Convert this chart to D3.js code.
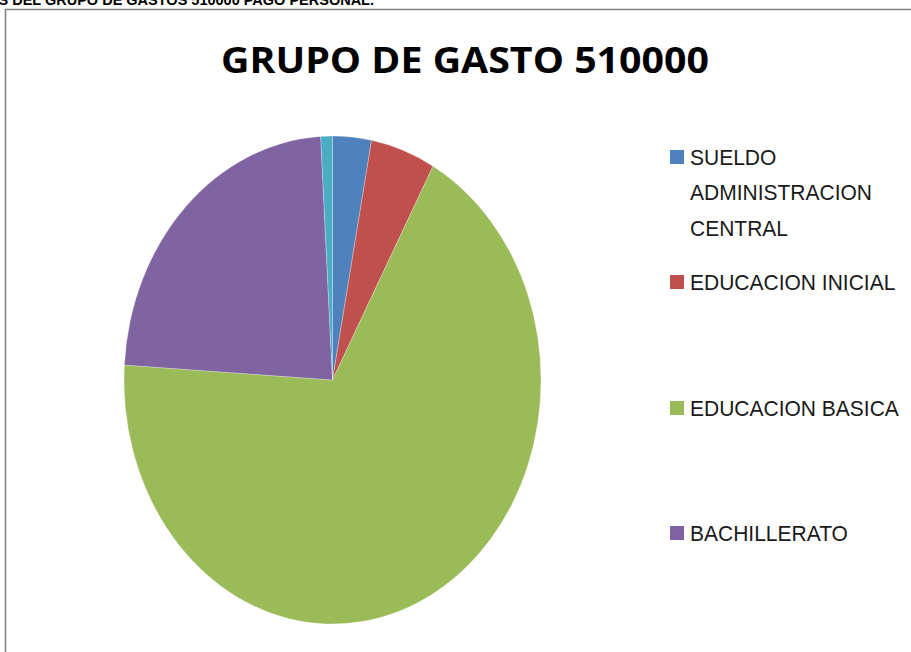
<!DOCTYPE html>
<html>
<head>
<meta charset="utf-8">
<script src="https://cdn.jsdelivr.net/npm/d3@7.9.0/dist/d3.min.js"></script>
<style>
  html, body { margin: 0; padding: 0; background: #fff; overflow: hidden; }
  svg { display: block; }
</style>
</head>
<body>
<svg id="chart" width="911" height="652"></svg>
<script>
// Data (share of the group, %)
const categories = [
  ['SUELDO', 'ADMINISTRACION', 'CENTRAL'],
  ['EDUCACION INICIAL'],
  ['EDUCACION BASICA'],
  ['BACHILLERATO'],
  ['OTROS']
];
const values = [3.0, 5.0, 67.9, 23.1, 0.9];
const colors = ['#4f81bd', '#c0504d', '#9bbb59', '#8064a2', '#4bacc6'];
const chartTitle = 'GRUPO DE GASTO 510000';
const pageHeading = 'GRAFICOS DEL GRUPO DE GASTOS 510000 PAGO PERSONAL.';

const data = categories.map((c, i) => ({ lines: c, value: values[i], color: colors[i] }));

const svg = d3.select('#chart');

// heading of the page, mostly cut off at the top
svg.append('text')
  .attr('x', 374)
  .attr('y', 5)
  .attr('text-anchor', 'end')
  .style('font-family', 'Liberation Sans, Arial, sans-serif')
  .style('font-weight', 'bold')
  .style('font-size', '14.5px')
  .text(pageHeading);

// chart frame (right and bottom edges are off the picture)
svg.append('rect')
  .attr('x', 5.5)
  .attr('y', 9.5)
  .attr('width', 1000)
  .attr('height', 1000)
  .attr('fill', '#fff')
  .attr('stroke', '#878787')
  .attr('stroke-width', 1.6);

// title
svg.append('text')
  .attr('x', 465)
  .attr('y', 73)
  .attr('text-anchor', 'middle')
  .attr('textLength', 488)
  .attr('lengthAdjust', 'spacingAndGlyphs')
  .style('font-family', 'Open Sans, Liberation Sans, sans-serif')
  .style('font-weight', 'bold')
  .style('font-size', '35px')
  .text(chartTitle);

// pie (the picture is stretched vertically)
const rx = 208.5, ry = 244;
const pie = d3.pie().sort(null).value(d => d.value);
const arc = d3.arc().innerRadius(0).outerRadius(rx);

const g = svg.append('g')
  .attr('transform', `translate(332.5,380) scale(1,${ry / rx})`);

g.selectAll('path')
  .data(pie(data))
  .join('path')
  .attr('d', arc)
  .attr('fill', d => d.data.color)
  .attr('stroke', '#fff')
  .attr('stroke-width', 0.4)
  .attr('stroke-opacity', 0.6);

// legend (only the first four entries fit in the picture)
const legendY = [157, 282, 408, 533];
const sx = 0.955;
const legend = svg.append('g');

const items = legend.selectAll('g')
  .data(data.slice(0, 4))
  .join('g')
  .attr('transform', (d, i) => `translate(670,${legendY[i]})`);

items.append('rect')
  .attr('x', 0)
  .attr('y', -7)
  .attr('width', 14)
  .attr('height', 14)
  .attr('fill', d => d.color);

items.append('text')
  .attr('transform', `scale(${sx},1)`)
  .style('font-family', 'Liberation Sans, Arial, sans-serif')
  .style('font-size', '22px')
  .attr('fill', '#1a1a1a')
  .selectAll('tspan')
  .data(d => d.lines)
  .join('tspan')
  .attr('x', 20 / sx)
  .attr('y', (d, i) => 8 + i * 35.5)
  .text(d => d);
</script>
</body>
</html>
